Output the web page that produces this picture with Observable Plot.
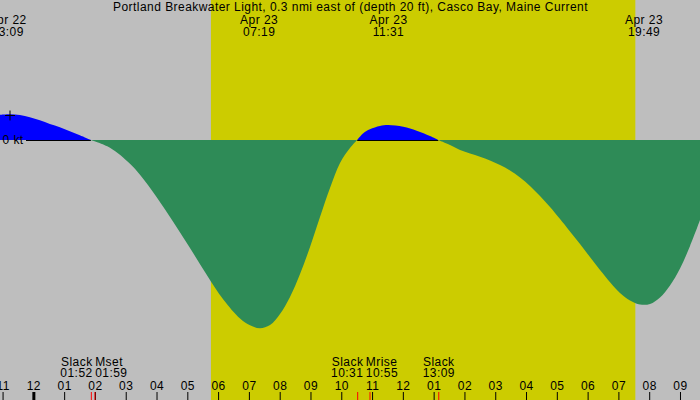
<!DOCTYPE html>
<html>
<head>
<meta charset="utf-8">
<script src="https://cdn.jsdelivr.net/npm/d3@7"></script>
<script src="https://cdn.jsdelivr.net/npm/@observablehq/plot@0.6"></script>
<style>
html, body { margin: 0; padding: 0; background: #bebebe; }
#chart svg { display: block; }
</style>
</head>
<body>
<div id="chart"></div>
<script>
// ---------- data ----------
const title = "Portland Breakwater Light, 0.3 nmi east of (depth 20 ft), Casco Bay, Maine Current";

// current (kt, + = flood, - = ebb) vs hours from Apr 23 00:00 (negative = Apr 22)
const curveHours = [-1.088, -0.763, -0.438, -0.114, 0.211, 0.536, 0.861, 1.185, 1.510, 1.867,
  2.489, 3.138, 3.463, 4.006, 4.545, 5.087, 5.629, 6.169, 6.712, 7.036, 7.361, 7.686, 8.010,
  8.335, 8.660, 8.985, 9.309, 9.634, 9.959, 10.283, 10.517,
  10.715, 10.930, 11.255, 11.517, 12.013, 12.449, 12.881, 13.150,
  13.531, 13.856, 14.181, 14.506, 14.830, 15.155, 15.480, 15.805, 16.129, 16.454, 16.779, 17.104,
  17.753, 18.403, 19.052, 19.377, 19.702, 20.027, 20.351, 20.676, 21.001, 21.326, 21.650];
const curveKt = [0.101, 0.103, 0.100, 0.091, 0.079, 0.064, 0.051, 0.035, 0.019, 0,
  -0.031, -0.095, -0.139, -0.229, -0.328, -0.432, -0.539, -0.638, -0.714, -0.741, -0.753, -0.740, -0.696,
  -0.628, -0.536, -0.428, -0.308, -0.192, -0.092, -0.032, 0,
  0.027, 0.043, 0.056, 0.060, 0.053, 0.037, 0.016, 0,
  -0.020, -0.040, -0.054, -0.067, -0.082, -0.100, -0.122, -0.150, -0.184, -0.224, -0.268, -0.316,
  -0.416, -0.520, -0.612, -0.642, -0.658, -0.656, -0.630, -0.582, -0.514, -0.424, -0.320];

// max current events (top labels)
const peakDays = ["Apr 22", "Apr 23", "Apr 23", "Apr 23"];
const peakTimes = ["23:09", "07:19", "11:31", "19:49"];

// slack / moon events (bottom labels)
const eventNames = ["Slack", "Mset", "Slack", "Mrise", "Slack"];
const eventTimes = ["01:52", "01:59", "10:31", "10:55", "13:09"];

// daylight
const sunrise = "05:46";
const sunset = "19:33";

// hour ticks
const hourTicks = [-1, 0, 1, 2, 3, 4, 5, 6, 7, 8, 9, 10, 11, 12, 13, 14, 15, 16, 17, 18, 19, 20, 21];
const hourLabels = ["11", "12", "01", "02", "03", "04", "05", "06", "07", "08", "09", "10",
  "11", "12", "01", "02", "03", "04", "05", "06", "07", "08", "09"];

// y axis
const yTicks = [0];
const yTickLabels = ["0 kt"];
const yMarkTicks = [0.1];

// view window
const viewStart = ["Apr 22", "22:55"];
const viewEnd = ["Apr 23", "21:39"];
const yDomain = [-1.04, 0.56];

// ---------- helpers ----------
const toHours = (t, day = "Apr 23") => {
  const [hh, mm] = t.split(":").map(Number);
  return hh + mm / 60 + (day === "Apr 22" ? -24 : 0);
};
const xDomain = [toHours(viewStart[1], viewStart[0]), toHours(viewEnd[1], viewEnd[0])];
const W = 700, H = 400;
const pxPerHour = W / (xDomain[1] - xDomain[0]);

const gray = "#bebebe", yellow = "#cccc00", green = "#2e8b57", blue = "#0000ff", red = "#ff0000";
const fs = 12;

const curve = curveHours.map((h, i) => ({h, v: curveKt[i]}));

// split into flood / ebb segments (zero crossings shared by both neighbours)
const segs = [];
let segId = -1, segSign = 0;
curve.forEach((d, i) => {
  const s = d.v > 0 ? 1 : d.v < 0 ? -1 : 0;
  if (s !== 0 && s !== segSign) {
    segId++; segSign = s;
    const prev = curve[i - 1];
    if (prev && prev.v === 0) segs.push({...prev, seg: segId, sign: s});
  }
  segs.push({...d, seg: segId, sign: s === 0 ? segSign : s});
});

// flood spans (v >= 0) for the zero line
const spans = [];
let cur = null;
curve.forEach(d => {
  if (d.v >= 0) { if (!cur) { cur = {a: d.h, b: d.h}; spans.push(cur); } else cur.b = d.h; }
  else cur = null;
});
const labelInsetPx = 26;
spans.forEach(s => { s.a = Math.max(s.a, xDomain[0] + labelInsetPx / pxPerHour); });

const peaks = peakTimes.map((t, i) => ({day: peakDays[i], time: t, h: toHours(t, peakDays[i])}));

const events = eventNames.map((name, i) => ({name, time: eventTimes[i], h: toHours(eventTimes[i])}));
const groups = [];
events.forEach(e => {
  const g = groups[groups.length - 1];
  if (g && (e.h - g[g.length - 1].h) * pxPerHour < 30) g.push(e); else groups.push([e]);
});
const labels = [];
groups.forEach(g => {
  if (g.length === 1) labels.push({...g[0], x: g[0].h, anchor: "middle"});
  else {
    const mid = d3.mean(g, e => e.h);
    labels.push({...g[0], x: mid, anchor: "end"});
    labels.push({...g[1], x: mid, anchor: "start"});
  }
});
const ticks = hourTicks.map((h, i) => ({h, label: hourLabels[i]}));

const nameDy = -38.3, timeDy = -27.5, tickDy = -14.3;
const txt = {fontSize: fs, lineAnchor: "middle"};
const labelMarks = (anchor, dx) => [
  Plot.text(labels.filter(d => d.anchor === anchor), {x: "x", text: "name", frameAnchor: "bottom", dy: nameDy, dx, textAnchor: anchor, ...txt}),
  Plot.text(labels.filter(d => d.anchor === anchor), {x: "x", text: "time", frameAnchor: "bottom", dy: timeDy, dx, textAnchor: anchor, ...txt})
];

const chart = Plot.plot({
  width: W, height: H,
  margin: 0,
  x: {domain: xDomain, axis: null},
  y: {domain: yDomain, axis: null},
  style: {background: gray, color: "black", fontFamily: "'Liberation Sans', Arial, sans-serif", letterSpacing: "0.45px"},
  marks: [
    Plot.rect([0], {x1: toHours(sunrise), x2: toHours(sunset), fill: yellow}),
    Plot.areaY(segs.filter(d => d.sign < 0), {x: "h", y1: 0, y2: "v", z: "seg", fill: green, curve: "catmull-rom"}),
    Plot.areaY(segs.filter(d => d.sign > 0), {x: "h", y1: 0, y2: "v", z: "seg", fill: blue, curve: "catmull-rom"}),
    Plot.ruleY(spans, {y: 0, x1: "a", x2: "b", stroke: "black", strokeWidth: 1}),
    Plot.text(yTicks, {y: d => d, text: (d, i) => yTickLabels[i], frameAnchor: "left", textAnchor: "start", dx: 2, ...txt}),
    Plot.dot(yMarkTicks, {y: d => d, frameAnchor: "left", dx: 9.5, symbol: "plus", r: 3.3, stroke: "black", strokeWidth: 1}),
    // title and top labels
    Plot.text([title], {frameAnchor: "top", dy: 7, ...txt}),
    Plot.text(peaks, {x: "h", text: "day", frameAnchor: "top", dy: 19.5, ...txt}),
    Plot.text(peaks, {x: "h", text: "time", frameAnchor: "top", dy: 31.7, ...txt}),
    // bottom event labels
    ...labelMarks("middle", 0),
    ...labelMarks("end", -0.5),
    ...labelMarks("start", 2),
    // hour ticks
    Plot.text(ticks, {x: "h", text: "label", frameAnchor: "bottom", dy: tickDy, ...txt}),
    Plot.ruleX(hourTicks.filter(h => h % 24 !== 0), {x: d => d, insetTop: 392, stroke: "black", strokeWidth: 1}),
    Plot.ruleX(hourTicks.filter(h => h % 24 === 0), {x: d => d, insetTop: 392, stroke: "black", strokeWidth: 3}),
    Plot.ruleX(events, {x: "h", insetTop: 392, stroke: red, strokeWidth: 1})
  ]
});
document.getElementById("chart").appendChild(chart);
</script>
</body>
</html>
